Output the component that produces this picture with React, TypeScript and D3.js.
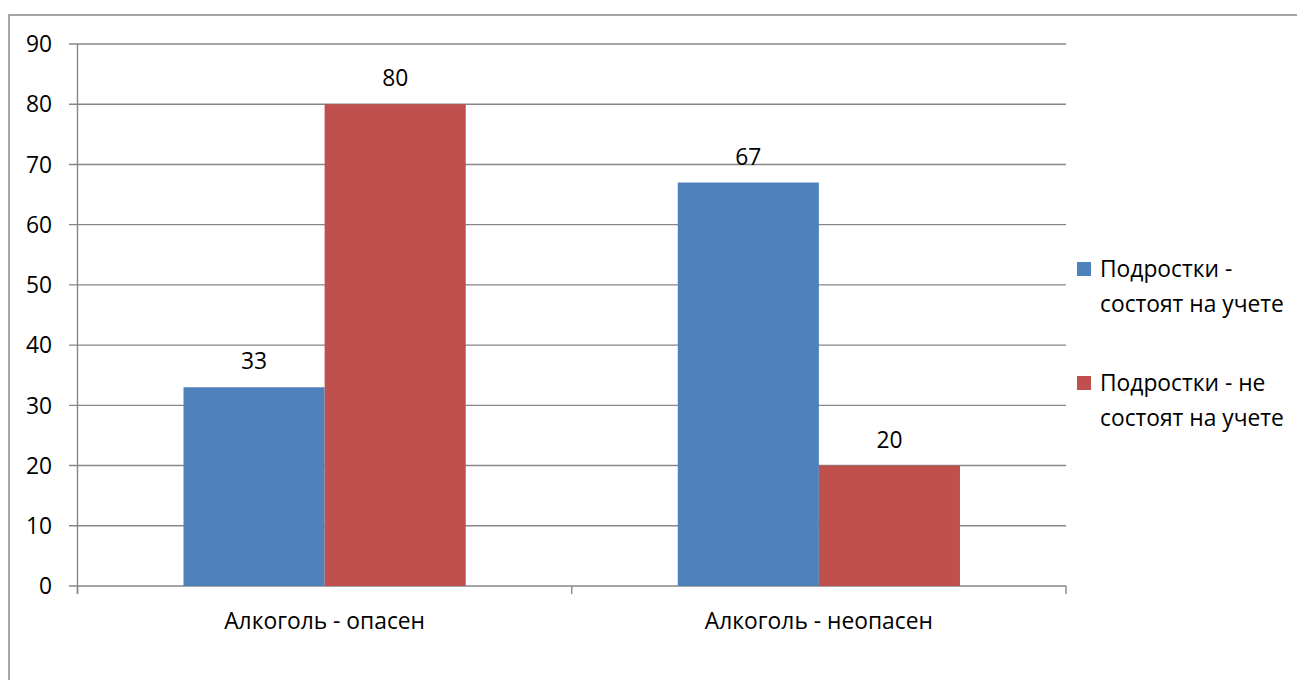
import React from "react";
import * as d3 from "d3";

const categories = ["Алкоголь - опасен", "Алкоголь - неопасен"];
const seriesNames = [
  ["Подростки -", "состоят на учете"],
  ["Подростки - не", "состоят на учете"],
];
const seriesOnRegister = [33, 67];
const seriesNotOnRegister = [80, 20];
const yTicks = [0, 10, 20, 30, 40, 50, 60, 70, 80, 90];
const colors = ["#4F81BD", "#C0504D"];

const W = 1297;
const H = 680;
const FONT = "'Open Sans', 'Noto Sans', sans-serif";
const FS = 22.8;

export default function App() {
  const left = 77.5;
  const right = 1066;
  const top = 44;
  const bottom = 586;
  const y = d3.scaleLinear().domain([0, 90]).range([bottom, top]);
  const x0 = d3.scaleBand().domain(categories).range([left, right]).paddingInner(0).paddingOuter(0);
  const series = [seriesOnRegister, seriesNotOnRegister];
  const groupWidth = x0.bandwidth() * 0.571;
  const x1 = d3.scaleBand().domain(["0", "1"]).range([0, groupWidth]);
  const grid = "#868686";

  return (
    <svg width={W} height={H} style={{ position: "absolute", left: 0, top: 0, background: "#fff" }}>
      <rect x={9} y={15} width={1300} height={700} fill="#fff" stroke="#898989" strokeWidth={1.5} />
      {yTicks.map((t) => (
        <g key={t}>
          <line x1={69} x2={right} y1={y(t)} y2={y(t)} stroke={grid} strokeWidth={1.4} />
          <text x={52} y={y(t)} dy="0.36em" textAnchor="end" fontFamily={FONT} fontSize={FS} fill="#000">
            {t}
          </text>
        </g>
      ))}
      <line x1={left} x2={left} y1={top} y2={bottom + 8} stroke={grid} strokeWidth={1.4} />
      {[left, (left + right) / 2, right].map((xx, i) => (
        <line key={i} x1={xx} x2={xx} y1={bottom} y2={bottom + 8} stroke={grid} strokeWidth={1.4} />
      ))}
      {categories.map((c, ci) => {
        const gx = (x0(c) as number) + (x0.bandwidth() - groupWidth) / 2;
        return (
          <g key={c}>
            {series.map((s, si) => {
              const bx = gx + (x1(String(si)) as number);
              const bw = x1.bandwidth();
              return (
                <g key={si}>
                  <rect x={bx} y={y(s[ci])} width={bw} height={bottom - y(s[ci])} fill={colors[si]} />
                  <text
                    x={bx + bw / 2}
                    y={y(s[ci]) - 18}
                    textAnchor="middle"
                    fontFamily={FONT}
                    fontSize={FS}
                    fill="#000"
                  >
                    {s[ci]}
                  </text>
                </g>
              );
            })}
            <text
              x={(x0(c) as number) + x0.bandwidth() / 2}
              y={629}
              textAnchor="middle"
              fontFamily={FONT}
              fontSize={FS}
              fill="#000"
            >
              {c}
            </text>
          </g>
        );
      })}
      {seriesNames.map((lines, i) => {
        const base = 277 + i * 114;
        return (
          <g key={i}>
            <rect x={1077} y={base - 15} width={14} height={14} fill={colors[i]} />
            {lines.map((l, li) => (
              <text key={li} x={1100} y={base + li * 35} fontFamily={FONT} fontSize={FS} fill="#000">
                {l}
              </text>
            ))}
          </g>
        );
      })}
    </svg>
  );
}
